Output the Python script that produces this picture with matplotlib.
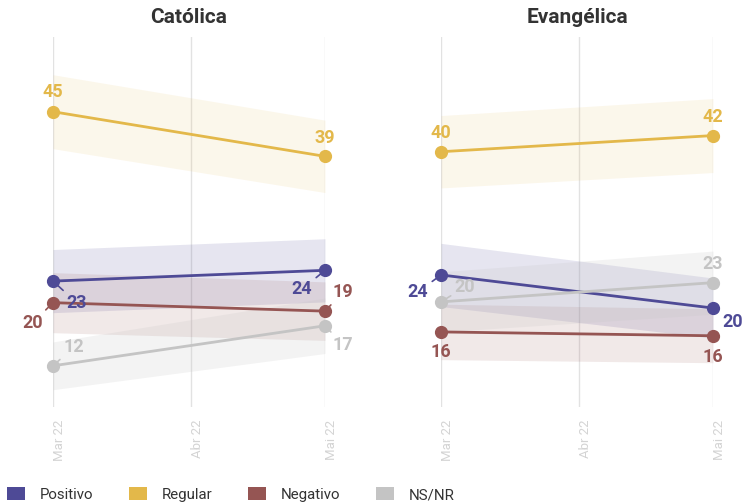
import matplotlib
matplotlib.use("Agg")
import matplotlib.pyplot as plt
from matplotlib.patches import Patch

plt.rcParams["font.family"] = ["Roboto", "DejaVu Sans"]

# Dados (pontos percentuais)
dias = [0, 61]                      # Mar 22 e Mai 22 (dias desde 1/mar)
ticks = [0, 31, 61]
tick_labels = ["Mar 22", "Abr 22", "Mai 22"]
series = ["Positivo", "Regular", "Negativo", "NS/NR"]
cores = ["#4e4a96", "#e3b84a", "#955553", "#c4c4c4"]

catolica = {
    "Positivo": [23.0, 24.4],
    "Regular": [45.0, 39.2],
    "Negativo": [20.2, 19.1],
    "NS/NR": [12.0, 17.2],
}
catolica_inf = {
    "Positivo": [18.9, 20.3],
    "Regular": [40.2, 34.5],
    "Negativo": [16.3, 15.3],
    "NS/NR": [8.9, 13.6],
}
catolica_sup = {
    "Positivo": [27.1, 28.5],
    "Regular": [49.8, 43.9],
    "Negativo": [24.1, 22.9],
    "NS/NR": [15.1, 20.8],
}

evangelica = {
    "Positivo": [23.8, 19.5],
    "Regular": [39.8, 41.9],
    "Negativo": [16.4, 15.9],
    "NS/NR": [20.3, 22.8],
}
evangelica_inf = {
    "Positivo": [19.7, 15.6],
    "Regular": [35.1, 37.1],
    "Negativo": [12.8, 12.4],
    "NS/NR": [16.4, 18.7],
}
evangelica_sup = {
    "Positivo": [27.9, 23.4],
    "Regular": [44.5, 46.7],
    "Negativo": [20.0, 19.4],
    "NS/NR": [24.2, 26.9],
}

# rótulos: (deslocamento em px, com linha?)
rot_catolica = {
    "Positivo": [((24, -22), True), ((-23, -19), True)],
    "Regular": [((0, 20), False), ((0, 18), False)],
    "Negativo": [((-20, -20), True), ((18, 19), True)],
    "NS/NR": [((21, 19), True), ((18, -19), True)],
}
rot_evangelica = {
    "Positivo": [((-23, -17), True), ((20, -14), False)],
    "Regular": [((0, 19), False), ((0, 19), False)],
    "Negativo": [((0, -20), False), ((0, -21), False)],
    "NS/NR": [((24, 15), True), ((0, 19), False)],
}
alfas = {"Positivo": 0.14, "Regular": 0.11, "Negativo": 0.13, "NS/NR": 0.2}

fig = plt.figure(figsize=(7.44, 5.03), dpi=100)
W, H = 744, 503
ax1 = fig.add_axes([53 / W, 1 - 407 / H, 272 / W, 370 / H])
ax2 = fig.add_axes([441 / W, 1 - 407 / H, 272 / W, 370 / H])


def painel(ax, titulo, vals, inf, sup, rotulos):
    for nome, cor in zip(series, cores):
        ax.fill_between(dias, inf[nome], sup[nome], color=cor,
                        alpha=alfas[nome], linewidth=0, zorder=1)
    for nome, cor in zip(series, cores):
        ax.plot(dias, vals[nome], color=cor, lw=2, marker="o", ms=8.5,
                clip_on=False, zorder=3)
        for x, y, ((dx, dy), linha) in zip(dias, vals[nome], rotulos[nome]):
            props = None
            if linha:
                props = dict(arrowstyle="-", color=cor, lw=1.2,
                             shrinkA=1, shrinkB=3.5)
            ax.annotate(f"{y:.0f}", (x, y), xytext=(dx, dy),
                        textcoords="offset pixels", ha="center", va="center",
                        fontsize=13, fontweight="bold", color=cor,
                        arrowprops=props, annotation_clip=False, zorder=4)
    ax.set_xlim(0, 61)
    ax.set_ylim(6.65, 54.7)
    ax.set_xticks(ticks)
    ax.set_xticklabels(tick_labels, rotation=90, ha="left", va="top",
                       fontsize=9.5, color="#d4d4d4")
    ax.tick_params(axis="x", length=0, pad=9)
    ax.set_yticks([])
    ax.grid(axis="x", color="#e2e2e2", lw=1)
    ax.set_axisbelow(True)
    for s in ax.spines.values():
        s.set_visible(False)
    ax.set_title(titulo, fontsize=15, fontweight="bold", color="#333333",
                 pad=10)


painel(ax1, "Católica", catolica, catolica_inf, catolica_sup, rot_catolica)
painel(ax2, "Evangélica", evangelica, evangelica_inf, evangelica_sup,
       rot_evangelica)

handles = [Patch(facecolor=c, edgecolor="none") for c in cores]
fig.legend(handles, series, loc="lower left", bbox_to_anchor=(7 / W, 1 / H),
           ncol=4, frameon=False, handlelength=1.2,
           prop={"family": "Roboto", "weight": "normal", "size": 10.8},
           handleheight=0.95, handletextpad=1.0, columnspacing=2.35,
           borderpad=0, borderaxespad=0, labelcolor="#333333")

fig.savefig("out.png", dpi=100)
